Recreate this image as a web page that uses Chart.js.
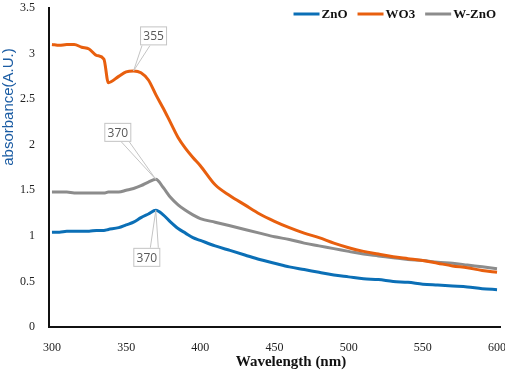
<!DOCTYPE html>
<html>
<head>
<meta charset="utf-8">
<script src="https://cdn.jsdelivr.net/npm/chart.js@4"></script>
<style>
  body { margin: 0; background: #fff; }
  #wrap { width: 505px; height: 374px; position: relative; }
</style>
</head>
<body>
<div id="wrap"><canvas id="uvChart"></canvas></div>
<script>
// wavelengths (nm) shared by all three spectra
const wavelengths = [300, 305, 310, 315, 320, 325, 330, 335, 338, 345, 350, 355, 360, 365, 370, 375, 380, 385, 390, 395, 400,
    410, 420, 430, 440, 450, 460, 470, 480, 490, 500, 510, 520, 530, 540, 550, 560, 570, 580, 590, 600];

const znO = [1.04, 1.04, 1.05, 1.05, 1.05, 1.05, 1.06, 1.06, 1.07, 1.09, 1.12, 1.15, 1.20, 1.24, 1.28, 1.23, 1.15, 1.08, 1.03, 0.98, 0.95,
    0.89, 0.84, 0.79, 0.74, 0.70, 0.66, 0.63, 0.60, 0.57, 0.55, 0.53, 0.52, 0.50, 0.49, 0.47, 0.46, 0.45, 0.44, 0.42, 0.41];

const wO3 = [3.10, 3.09, 3.10, 3.10, 3.07, 3.05, 2.98, 2.94, 2.68, 2.75, 2.80, 2.81, 2.79, 2.71, 2.55, 2.40, 2.24, 2.08, 1.96, 1.86, 1.77,
    1.56, 1.44, 1.34, 1.24, 1.16, 1.09, 1.03, 0.98, 0.92, 0.87, 0.83, 0.80, 0.77, 0.75, 0.73, 0.70, 0.67, 0.65, 0.62, 0.60];

const wZnO = [1.48, 1.48, 1.48, 1.47, 1.47, 1.47, 1.47, 1.47, 1.48, 1.48, 1.50, 1.52, 1.55, 1.59, 1.62, 1.53, 1.42, 1.34, 1.28, 1.23, 1.19,
    1.15, 1.11, 1.07, 1.03, 0.99, 0.96, 0.92, 0.89, 0.86, 0.83, 0.80, 0.78, 0.76, 0.74, 0.73, 0.71, 0.70, 0.68, 0.66, 0.64];

const seriesNames = ['ZnO', 'WO3', 'W-ZnO'];
const xTicks = [300, 350, 400, 450, 500, 550, 600];

// peak callouts: dataset index, wavelength, text
const peakLabels = [
    { ds: 1, x: 355, text: '355' },
    { ds: 2, x: 370, text: '370' },
    { ds: 0, x: 370, text: '370' }
];
// box offsets from the marked point (px)
const calloutOffsets = [[20, -35], [-38, -47], [-9, 47]];

function pairs(ys) {
    return wavelengths.map((w, i) => ({ x: w, y: ys[i] }));
}

const colors = ['#0b6fb6', '#e85f0e', '#8c8c8c'];
const serif = '"Liberation Serif", "Times New Roman", serif';

const extras = {
    id: 'extras',
    afterDraw(chart) {
        const ctx = chart.ctx;
        const xs = chart.scales.x, ys = chart.scales.y;
        ctx.save();

        // y title
        ctx.save();
        ctx.translate(9, 107);
        ctx.rotate(-Math.PI / 2);
        ctx.fillStyle = '#1b5ca3';
        ctx.font = '15px "Liberation Sans", Arial, sans-serif';
        ctx.textAlign = 'center';
        ctx.textBaseline = 'middle';
        ctx.fillText('absorbance(A.U.)', 0, 0);
        ctx.restore();

        // x title
        ctx.fillStyle = '#111';
        ctx.font = 'bold 15px ' + serif;
        ctx.textAlign = 'center';
        ctx.textBaseline = 'middle';
        ctx.fillText('Wavelength (nm)', 291, 362);

        // legend, top right
        ctx.font = 'bold 13px ' + serif;
        ctx.textAlign = 'left';
        const items = chart.data.datasets.map(d => ({ d, tw: ctx.measureText(d.label).width }));
        const total = items.reduce((s, it) => s + 29 + it.tw, 0) + 9 * (items.length - 1);
        let lx = 497 - total;
        items.forEach(({ d, tw }) => {
            ctx.strokeStyle = d.borderColor;
            ctx.lineWidth = 3;
            ctx.beginPath();
            ctx.moveTo(lx, 14);
            ctx.lineTo(lx + 26, 14);
            ctx.stroke();
            ctx.fillStyle = '#111';
            ctx.fillText(d.label, lx + 28, 15);
            lx += 28 + tw + 10;
        });

        // callouts
        ctx.font = '12px "Open Sans", "Liberation Sans", sans-serif';
        peakLabels.forEach((p, i) => {
            const idx = wavelengths.indexOf(p.x);
            const val = chart.data.datasets[p.ds].data[idx].y;
            const px = xs.getPixelForValue(p.x), py = ys.getPixelForValue(val);
            const [dx, dy] = calloutOffsets[i];
            const cx = px + dx, cy = py + dy;
            const w = 27, h = 19;
            const edgeY = dy < 0 ? cy + h / 2 : cy - h / 2;
            const shift = Math.max(-w / 2 + 6, Math.min(w / 2 - 6, -dx));
            ctx.strokeStyle = '#c4c4c4';
            ctx.lineWidth = 1;
            ctx.beginPath();
            ctx.moveTo(cx + shift - 4, edgeY);
            ctx.lineTo(px, py);
            ctx.lineTo(cx + shift + 4, edgeY);
            ctx.stroke();
            ctx.fillStyle = '#fff';
            ctx.fillRect(cx - w / 2, cy - h / 2, w, h);
            ctx.strokeRect(cx - w / 2 + 0.5, cy - h / 2 + 0.5, w - 1, h - 1);
            ctx.fillStyle = '#595959';
            ctx.textAlign = 'center';
            ctx.fillText(p.text, cx, cy + 1);
        });
        ctx.restore();
    }
};

const uv = document.getElementById('uvChart').getContext('2d');
new Chart(uv, {
    type: 'line',
    data: {
        datasets: [
            { label: seriesNames[0], data: pairs(znO), borderColor: colors[0] },
            { label: seriesNames[1], data: pairs(wO3), borderColor: colors[1] },
            { label: seriesNames[2], data: pairs(wZnO), borderColor: colors[2] }
        ]
    },
    options: {
        responsive: true,
        maintainAspectRatio: false,
        animation: false,
        elements: {
            line: { borderWidth: 3, cubicInterpolationMode: 'monotone', fill: false },
            point: { radius: 0 }
        },
        layout: { padding: { top: 8, right: 5, left: 0, bottom: 0 } },
        plugins: {
            legend: { display: false },
            tooltip: { enabled: false }
        },
        scales: {
            x: {
                type: 'linear',
                min: 298,
                max: 602,
                afterBuildTicks: (s) => { s.ticks = xTicks.map(v => ({ value: v })); },
                afterFit: (s) => { s.height = 47; s.paddingLeft = 0; s.paddingRight = 0; },
                grid: { display: false },
                border: { color: '#111', width: 2 },
                ticks: {
                    padding: 6,
                    color: '#222',
                    font: { family: serif, size: 12 }
                }
            },
            y: {
                min: 0,
                max: 3.5,
                afterFit: (s) => { s.width = 49; s.paddingTop = 0; s.paddingBottom = 0; },
                grid: { display: false },
                border: { color: '#111', width: 2 },
                ticks: {
                    stepSize: 0.5,
                    padding: 6,
                    color: '#222',
                    font: { family: serif, size: 12 },
                    callback: (v) => String(v)
                }
            }
        }
    },
    plugins: [extras]
});
</script>
</body>
</html>
